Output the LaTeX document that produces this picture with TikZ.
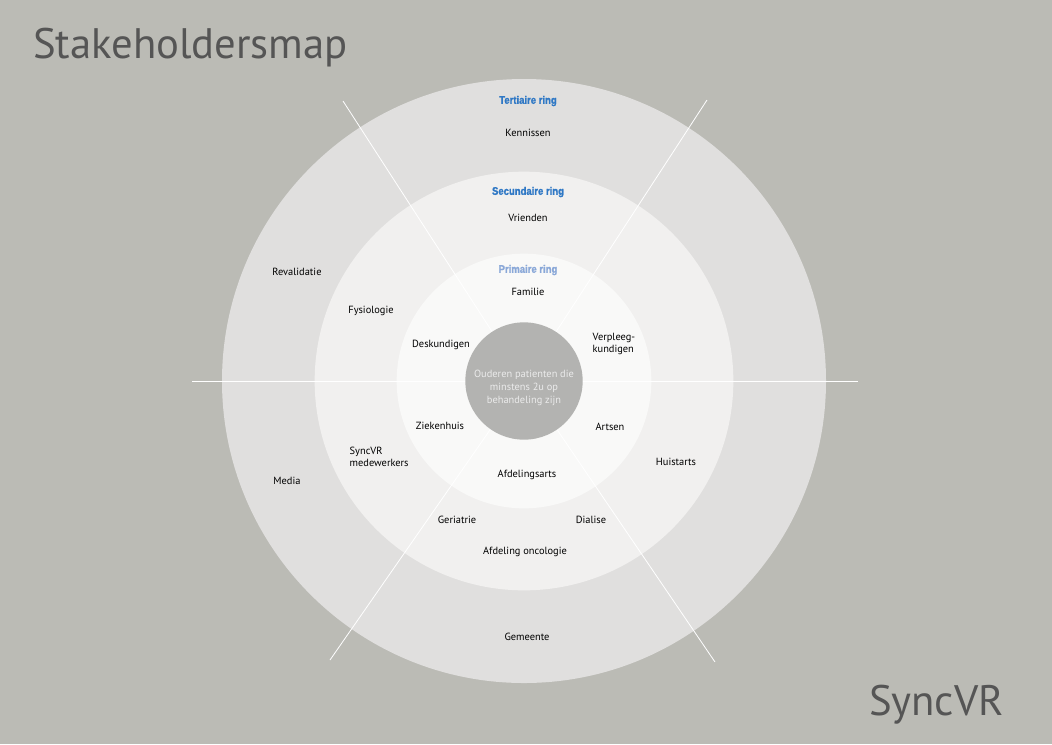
\documentclass[tikz,border=0pt]{standalone}
\usepackage{fontspec}
\setmainfont{PT Sans}
\newfontfamily\ringfont[FakeStretch=0.86,FakeBold=1.2]{Liberation Sans}
\definecolor{bgcol}{HTML}{BBBBB5}
\definecolor{tertcol}{HTML}{E0DFDE}
\definecolor{seccol}{HTML}{F1F0EF}
\definecolor{primcol}{HTML}{F9F9F8}
\definecolor{corecol}{HTML}{B3B3B1}
\definecolor{titlecol}{HTML}{555555}
\definecolor{ringblue}{HTML}{2F78C5}
\definecolor{ringlight}{HTML}{8AA8D8}
\tikzset{
  lbl/.style={font=\fontsize{7.8}{9.2}\selectfont, text=black},
  ringlbl/.style={font=\ringfont\bfseries\fontsize{8.3}{9}\selectfont, text=ringblue},
  spoke/.style={draw=white, line width=0.6pt},
  bigtitle/.style={font=\fontsize{32}{36}\selectfont, text=titlecol},
}
\begin{document}
\begin{tikzpicture}[x=0.75pt,y=-0.75pt]
  \fill [bgcol] (0,0) rectangle (1052,744);
  \useasboundingbox (0,0) rectangle (1052,744);
  \coordinate (mid) at (524,381);

  % rings
  \fill [tertcol] (mid) circle [radius=226.5pt];
  \fill [seccol] (mid) circle [radius=157pt];
  \fill [primcol] (mid) circle [radius=95.5pt];

  % spokes
  \coordinate (nw) at (343,101);
  \coordinate (ne) at (707,100);
  \coordinate (sw) at (330,660);
  \coordinate (se) at (715,662);
  \coordinate (w) at (192,381);
  \coordinate (e) at (858,381);
  \foreach \p in {nw,ne,sw,se,w,e}
    \draw [spoke] (mid) -- (\p);

  \node [circle, fill=corecol, minimum size=88pt, inner sep=0pt] (core) at (mid) {};
  \node [align=center, font=\fontsize{7.8}{9.75}\selectfont, text=white!92!black] (patient) at (524,388)
    {Ouderen patienten die\\minstens 2u op\\behandeling zijn};

  \node [bigtitle, anchor=base west, inner sep=0pt] (title) at (33,58) {Stakeholdersmap};
  \node [bigtitle, anchor=base east, inner sep=0pt] (brand) at (1004,715) {SyncVR};

  \node [ringlbl] (tert) at (528,101) {Tertiaire ring};
  \node [ringlbl] (sec) at (528,192) {Secundaire ring};
  \node [ringlbl, text=ringlight] (prim) at (528,270) {Primaire ring};

  \node [lbl] (kennissen) at (528,133) {Kennissen};
  \node [lbl] (vrienden) at (528,218) {Vrienden};
  \node [lbl] (familie) at (528,292) {Familie};
  \node [lbl] (revalidatie) at (297,272) {Revalidatie};
  \node [lbl] (fysiologie) at (371,311) {Fysiologie};
  \node [lbl] (deskundigen) at (441,345) {Deskundigen};
  \node [lbl, align=left, anchor=west] (verpleeg) at (588,344) {Verpleeg-\\kundigen};
  \node [lbl] (ziekenhuis) at (440,426) {Ziekenhuis};
  \node [lbl] (artsen) at (610,427) {Artsen};
  \node [lbl] (huistarts) at (676,462) {Huistarts};
  \node [lbl, align=left, anchor=west] (medewerkers) at (345,457) {SyncVR\\medewerkers};
  \node [lbl] (media) at (287,481) {Media};
  \node [lbl] (afdelingsarts) at (527,475) {Afdelingsarts};
  \node [lbl] (geriatrie) at (457,520) {Geriatrie};
  \node [lbl] (dialise) at (591,520) {Dialise};
  \node [lbl] (oncologie) at (525,552) {Afdeling oncologie};
  \node [lbl] (gemeente) at (527,637) {Gemeente};
\end{tikzpicture}
\end{document}
